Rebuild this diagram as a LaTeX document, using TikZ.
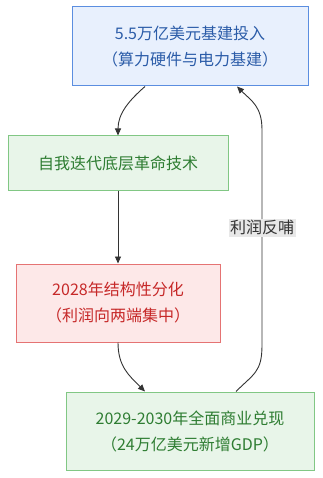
\documentclass[tikz,border=0pt]{standalone}
\usepackage{fontspec}
\setmainfont{Noto Sans CJK SC}
\usetikzlibrary{arrows.meta}
\definecolor{bluefill}{HTML}{E8F0FD}
\definecolor{blueline}{HTML}{5B8EE0}
\definecolor{bluetext}{HTML}{2B5CA8}
\definecolor{greenfill}{HTML}{E8F5E9}
\definecolor{greenline}{HTML}{81C784}
\definecolor{greentext}{HTML}{2E7D32}
\definecolor{redfill}{HTML}{FDE8E8}
\definecolor{redline}{HTML}{E57373}
\definecolor{redtext}{HTML}{C62828}
\definecolor{linkc}{HTML}{333333}
\definecolor{lblbg}{HTML}{E8E8E8}
\tikzset{
  box/.style={rectangle, draw, line width=1pt, align=center, inner sep=0pt,
    font=\fontsize{16pt}{26pt}\selectfont},
  bluebox/.style={box, fill=bluefill, draw=blueline, text=bluetext},
  greenbox/.style={box, fill=greenfill, draw=greenline, text=greentext},
  redbox/.style={box, fill=redfill, draw=redline, text=redtext},
  link/.style={draw=linkc, line width=0.9pt, -{Triangle[length=7pt,width=6pt]}},
  lbl/.style={fill=lblbg, text=linkc, inner sep=1.5pt, font=\fontsize{16pt}{20pt}\selectfont}
}
\begin{document}
\begin{tikzpicture}[x=1pt,y=-1pt]
\useasboundingbox (0,0) rectangle (323,478);
\fill[white] (0,0) rectangle (323,478);
\node[bluebox, minimum width=236pt, minimum height=79pt] (b1) at (190,46.5)
  {5.5万亿美元基建投入\\（算力硬件与电力基建）};
\node[greenbox, minimum width=220pt, minimum height=54pt] (b2) at (118,163)
  {自我迭代底层革命技术};
\node[redbox, minimum width=204pt, minimum height=78pt] (b3) at (118,303)
  {2028年结构性分化\\（利润向两端集中）};
\node[greenbox, minimum width=248pt, minimum height=78pt] (b4) at (190,431)
  {2029-2030年全面商业兑现\\（24万亿美元新增GDP）};
\draw[link] ([xshift=-45pt]b1.south) .. controls +(-16,14) and +(0,-22) .. (b2.north);
\draw[link] (b2.south) -- (b3.north);
\draw[link] (b3.south) .. controls +(0,24) and +(-16,-16) .. ([xshift=-45pt]b4.north);
\draw[link] ([xshift=46pt]b4.north) .. controls +(18,-18) and (262,372) .. (262,345)
  -- node[lbl, pos=0.545] (l1) {利润反哺} (262,130)
  .. controls (262,106) and +(14,14) .. ([xshift=47pt]b1.south);
\end{tikzpicture}
\end{document}
